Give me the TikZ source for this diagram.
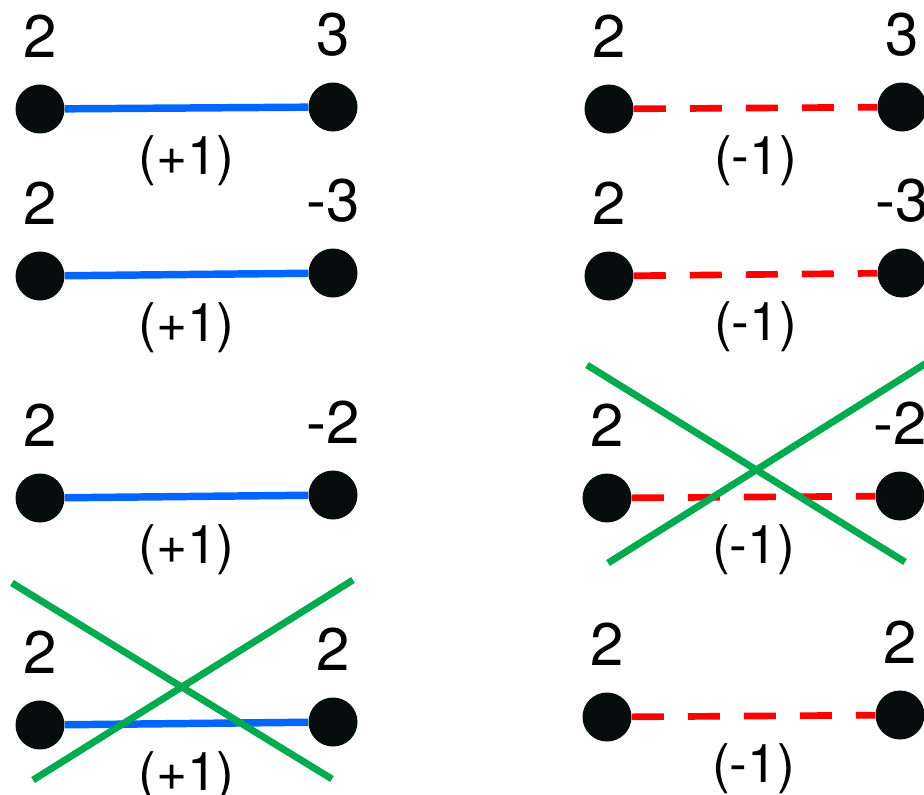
\documentclass[tikz,border=0pt]{standalone}
\usepackage{fontspec}
\setmainfont{TeX Gyre Heros}
\usepackage{xcolor}
\usepackage{tikz}
\usetikzlibrary{positioning,calc}
\definecolor{azul}{RGB}{0,102,255}
\definecolor{vermelho}{RGB}{255,0,0}
\definecolor{verde}{RGB}{0,170,78}
\definecolor{pontoCor}{RGB}{7,12,12}
\tikzset{
    vertice/.style={
        circle,
        fill=pontoCor,
        inner sep=0pt,
        minimum size=36.75pt
    },
    rotulo/.style={font=\fontsize{45}{54}\selectfont, inner sep=0pt},
    peso/.style={font=\fontsize{40}{48}\selectfont, inner sep=0pt},
    positiva/.style={draw=azul, line width=5.6pt},
    negativa/.style={draw=vermelho, line width=5pt, dash pattern=on 24pt off 18pt},
    veto/.style={draw=verde, line width=5.2pt}
}

\begin{document}
\begin{tikzpicture}[x=0.75pt, y=-0.75pt]
        \clip (0,0) rectangle (924,794);

        % coluna da esquerda: arestas positivas
        \node[vertice] (e1) at (40,109) {};
        \node[vertice] (d1) at (333,107) {};
        \node[rotulo, above=19.5pt of e1] (re1) {2};
        \node[rotulo, above=19.5pt of d1] (rd1) {3};
        \draw[positiva] (e1) -- node[peso, below=18pt] (p1) {(+1)} (d1);

        \node[vertice] (e2) at (40,276) {};
        \node[vertice] (d2) at (333,273) {};
        \node[rotulo, above=19.5pt of e2] (re2) {2};
        \node[rotulo, above=19.5pt of d2] (rd2) {-3};
        \draw[positiva] (e2) -- node[peso, below=18pt] (p2) {(+1)} (d2);

        \node[vertice] (e3) at (40,498) {};
        \node[vertice] (d3) at (333,495) {};
        \node[rotulo, above=19.5pt of e3] (re3) {2};
        \node[rotulo, above=19.5pt of d3] (rd3) {-2};
        \draw[positiva] (e3) -- node[peso, below=18pt] (p3) {(+1)} (d3);

        \node[vertice] (e4) at (40,725) {};
        \node[vertice] (d4) at (333,722) {};
        \node[rotulo, above=19.5pt of e4] (re4) {2};
        \node[rotulo, above=19.5pt of d4] (rd4) {2};
        \draw[positiva] (e4) -- node[peso, below=18pt] (p4) {(+1)} (d4);

        % coluna da direita: arestas negativas
        \node[vertice] (f1) at (609,109) {};
        \node[vertice] (g1) at (902,107) {};
        \node[rotulo, above=19.5pt of f1] (rf1) {2};
        \node[rotulo, above=19.5pt of g1] (rg1) {3};
        \draw[negativa] (f1) -- node[peso, below=18pt] (q1) {(-1)} (g1);

        \node[vertice] (f2) at (609,276) {};
        \node[vertice] (g2) at (902,273) {};
        \node[rotulo, above=19.5pt of f2] (rf2) {2};
        \node[rotulo, above=19.5pt of g2] (rg2) {-3};
        \draw[negativa] (f2) -- node[peso, below=18pt] (q2) {(-1)} (g2);

        \node[vertice] (f3) at (607,498) {};
        \node[vertice] (g3) at (900,496) {};
        \node[rotulo, above=19.5pt of f3] (rf3) {2};
        \node[rotulo, above=19.5pt of g3] (rg3) {-2};
        \draw[negativa] (f3) -- node[peso, below=18pt] (q3) {(-1)} (g3);

        \node[vertice] (f4) at (607,717) {};
        \node[vertice] (g4) at (900,715) {};
        \node[rotulo, above=19.5pt of f4] (rf4) {2};
        \node[rotulo, above=19.5pt of g4] (rg4) {2};
        \draw[negativa] (f4) -- node[peso, below=18pt] (q4) {(-1)} (g4);

        % cruzes verdes
        \coordinate (xa1) at (12,583);
        \coordinate (xa2) at (332,779);
        \coordinate (xa3) at (353,580);
        \coordinate (xa4) at (33,780);
        \draw[veto] (xa1) -- (xa2);
        \draw[veto] (xa3) -- (xa4);

        \coordinate (xb1) at (587,365);
        \coordinate (xb2) at (905,562);
        \coordinate (xb3) at (928,362);
        \coordinate (xb4) at (608,563);
        \draw[veto] (xb1) -- (xb2);
        \draw[veto] (xb3) -- (xb4);
    \end{tikzpicture}
\end{document}
